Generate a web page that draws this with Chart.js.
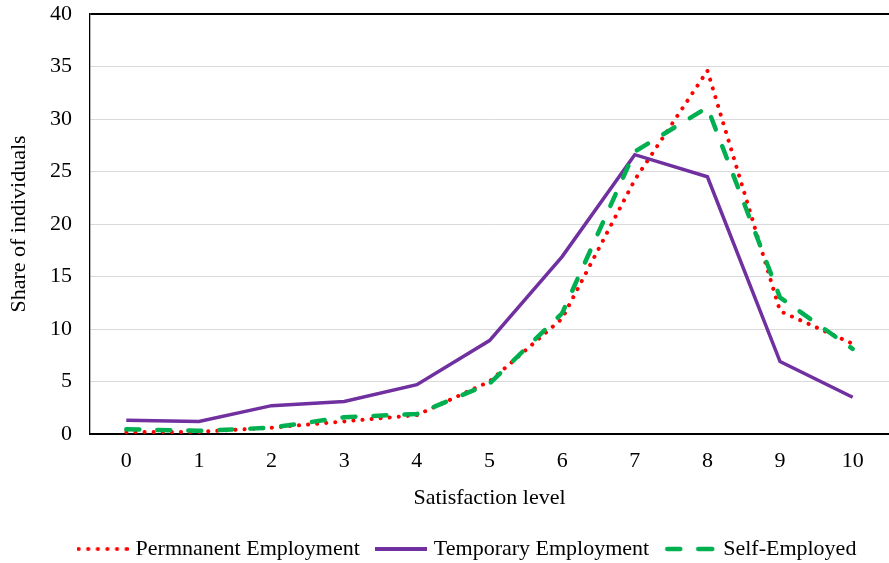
<!DOCTYPE html>
<html>
<head>
<meta charset="utf-8">
<script src="https://cdn.jsdelivr.net/npm/chart.js@4/dist/chart.umd.min.js"></script>
<style>
  html, body { margin: 0; padding: 0; background: #ffffff; }
  #wrap { width: 889px; height: 563px; }
</style>
</head>
<body>
<div id="wrap"><canvas id="chart" width="889" height="563"></canvas></div>
<script>
// Satisfaction level categories (0 = lowest, 10 = highest)
const satisfactionLevels = ['0', '1', '2', '3', '4', '5', '6', '7', '8', '9', '10'];

// Share of individuals (%) at each satisfaction level, by employment type
const permanentShare = [0.2, 0.2, 0.6, 1.2, 1.8, 5.0, 11.0, 24.2, 34.6, 11.7, 8.6];
const temporaryShare = [1.3, 1.2, 2.7, 3.1, 4.7, 8.9, 16.9, 26.6, 24.5, 6.9, 3.5];
const selfEmployedShare = [0.45, 0.3, 0.6, 1.6, 1.9, 4.8, 11.5, 26.9, 31.1, 13.0, 8.1];

const seriesNames = ['Permnanent Employment', 'Temporary Employment', 'Self-Employed'];

const FONT = 'Liberation Serif, "Times New Roman", serif';
const FONT_SIZE = 22;
const RED = '#ff0000';
const PURPLE = '#7030a0';
const GREEN = '#00b050';

// Small line samples used as legend symbols
function legendSample(kind) {
  const c = document.createElement('canvas');
  c.width = 52; c.height = 8;
  const g = c.getContext('2d');
  const y = 4;
  if (kind === 'dot') {
    g.fillStyle = RED;
    for (let x = 2; x <= 50; x += 9.6) {
      g.beginPath(); g.arc(x, y, 2.1, 0, Math.PI * 2); g.fill();
    }
  } else if (kind === 'solid') {
    g.strokeStyle = PURPLE; g.lineWidth = 4;
    g.beginPath(); g.moveTo(0, y); g.lineTo(52, y); g.stroke();
  } else {
    g.strokeStyle = GREEN; g.lineWidth = 4.5; g.lineCap = 'round';
    g.beginPath(); g.moveTo(3, y); g.lineTo(16, y); g.stroke();
    g.beginPath(); g.moveTo(34, y); g.lineTo(48, y); g.stroke();
  }
  return c;
}
const samples = [legendSample('dot'), legendSample('solid'), legendSample('dash')];

const CANVAS_H = 563;
const PLOT_TOP = 14;
const PLOT_BOTTOM = 434;
const PAD_BOTTOM = -7;

// Nudges the legend row to the right of the canvas centre
const legendOffset = {
  id: 'legendOffset',
  afterLayout(chart) {
    const lg = chart.legend;
    if (lg) { lg.left += 24; lg.right += 24; }
  }
};

new Chart(document.getElementById('chart'), {
  type: 'line',
  data: {
    labels: satisfactionLevels,
    datasets: [
      {
        label: seriesNames[0],
        data: permanentShare,
        borderColor: RED,
        borderWidth: 4,
        borderDash: [0.1, 9],
        borderCapStyle: 'round',
        order: 3
      },
      {
        label: seriesNames[1],
        data: temporaryShare,
        borderColor: PURPLE,
        borderWidth: 3.5,
        order: 2
      },
      {
        label: seriesNames[2],
        data: selfEmployedShare,
        borderColor: GREEN,
        borderWidth: 4.5,
        borderDash: [13, 18],
        borderCapStyle: 'round',
        order: 1
      }
    ]
  },
  plugins: [legendOffset],
  options: {
    responsive: false,
    animation: false,
    events: [],
    devicePixelRatio: 1,
    layout: { padding: { left: 0, right: 0, top: 0, bottom: PAD_BOTTOM } },
    elements: {
      line: { tension: 0, fill: false },
      point: { radius: 0, hoverRadius: 0 }
    },
    plugins: {
      tooltip: { enabled: false },
      legend: {
        position: 'bottom',
        labels: {
          usePointStyle: true,
          pointStyleWidth: 44,
          padding: 19,
          color: '#000',
          font: { family: FONT, size: FONT_SIZE },
          generateLabels(chart) {
            const items = Chart.defaults.plugins.legend.labels.generateLabels(chart);
            items.forEach(it => { it.pointStyle = samples[it.datasetIndex]; });
            return items.sort((a, b) => a.datasetIndex - b.datasetIndex);
          }
        }
      }
    },
    scales: {
      x: {
        offset: true,
        grid: { display: false, drawTicks: false },
        border: { display: true, color: '#000', width: 2 },
        ticks: { color: '#000', padding: 14, font: { family: FONT, size: FONT_SIZE } },
        title: {
          display: true,
          text: 'Satisfaction level',
          color: '#000',
          font: { family: FONT, size: FONT_SIZE },
          padding: { top: 6, bottom: 8 }
        },
        afterFit(scale) {
          const legendH = scale.chart.legend ? scale.chart.legend.height : 0;
          scale.height = CANVAS_H - PAD_BOTTOM - legendH - PLOT_BOTTOM;
        }
      },
      y: {
        min: 0,
        max: 40,
        ticks: {
          stepSize: 5,
          color: '#000',
          padding: 18,
          font: { family: FONT, size: FONT_SIZE }
        },
        grid: {
          drawTicks: false,
          color: ctx => (ctx.tick && ctx.tick.value === 40 ? '#000' : '#d9d9d9'),
          lineWidth: ctx => (ctx.tick && ctx.tick.value === 40 ? 2 : 1)
        },
        border: { display: true, color: '#000', width: 1.3 },
        title: {
          display: true,
          text: 'Share of individuals',
          color: '#000',
          font: { family: FONT, size: FONT_SIZE },
          padding: { top: 6, bottom: 0 }
        },
        afterFit(scale) {
          scale.width = 90;
          scale.paddingTop = PLOT_TOP;
        }
      }
    }
  }
});
</script>
</body>
</html>
